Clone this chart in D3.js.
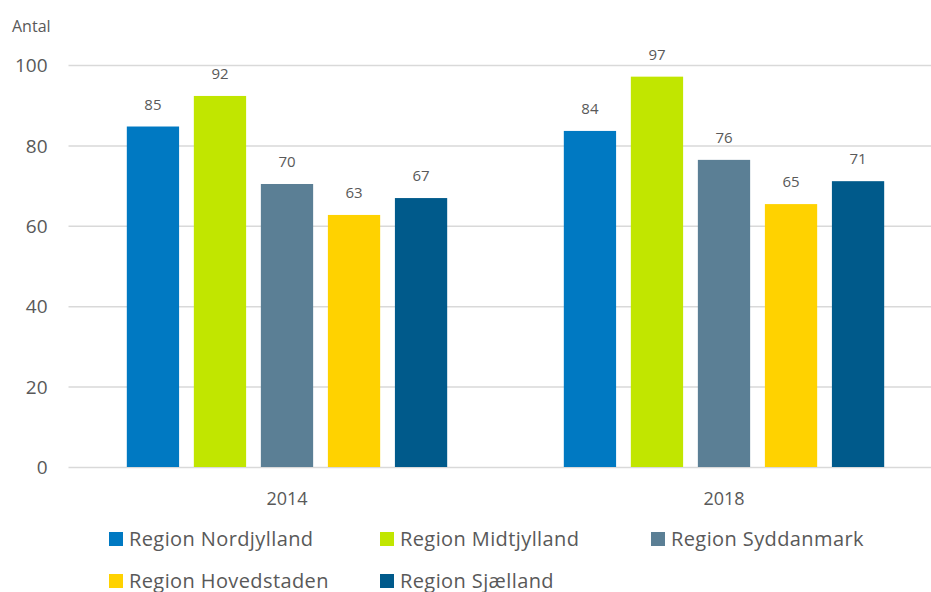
<!DOCTYPE html>
<html>
<head>
<meta charset="utf-8">
<script src="https://cdn.jsdelivr.net/npm/d3@7"></script>
<style>
  body { margin: 0; background: #fff; }
  svg text { font-family: 'Open Sans', 'Liberation Sans', sans-serif; fill: #595959; }
</style>
</head>
<body>
<div id="chart"></div>
<script>
const years = ['2014', '2018'];
const regions = ['Region Nordjylland', 'Region Midtjylland', 'Region Syddanmark', 'Region Hovedstaden', 'Region Sjælland'];
const values2014 = [84.7, 92.3, 70.4, 62.7, 66.9];
const values2018 = [83.6, 97.1, 76.4, 65.4, 71.1];
const colors = ['#0079C2', '#C1E600', '#5B7F95', '#FFD200', '#005A8B'];
const yTicks = [0, 20, 40, 60, 80, 100];

function drawChart() {
  const svg = d3.select('div#chart')
    .append('svg')
    .attr('width', 931)
    .attr('height', 592);

  const margin = { top: 65, left: 68.5, bottom: 125 };
  const chartHeight = 592 - margin.top - margin.bottom;

  const data = years.map((year, i) => ({
    year,
    values: (i === 0 ? values2014 : values2018).map((v, j) => ({ region: regions[j], value: v }))
  }));

  const yScale = d3.scaleLinear().domain([0, 100]).range([margin.top + chartHeight, margin.top]);
  const yearScale = d3.scaleBand().domain(years).range([margin.left, margin.left + 874]);
  const regionScale = d3.scaleBand()
    .domain(regions)
    .range([0, yearScale.bandwidth()])
    .paddingInner(0.22)
    .paddingOuter(0.87);
  const colorScale = d3.scaleOrdinal().domain(regions).range(colors);

  // gridlines
  const leftGridlines = d3.axisLeft(yScale).tickValues(yTicks).tickSize(-(931 - margin.left)).tickFormat('');
  svg.append('g')
    .attr('class', 'y gridlines')
    .attr('transform', `translate(${margin.left},0)`)
    .call(leftGridlines)
    .call(g => g.select('.domain').remove())
    .call(g => g.selectAll('line').attr('stroke', '#d9d9d9').attr('stroke-width', 1.5));

  // y labels
  const leftAxis = d3.axisLeft(yScale).tickValues(yTicks).tickSize(0).tickPadding(0);
  svg.append('g')
    .attr('class', 'y axis')
    .attr('transform', `translate(${margin.left - 21},0)`)
    .call(leftAxis)
    .call(g => g.select('.domain').remove())
    .call(g => g.selectAll('text').style('font-size', '19px').attr('dy', '0.35em'));

  svg.append('text')
    .attr('x', 12)
    .attr('y', 32)
    .style('font-size', '16px')
    .text('Antal');

  // bars
  const groups = svg.selectAll('g.year')
    .data(data)
    .join('g')
    .attr('class', 'year')
    .attr('transform', d => `translate(${yearScale(d.year)},0)`);

  groups.selectAll('rect')
    .data(d => d.values)
    .join('rect')
    .attr('x', d => regionScale(d.region))
    .attr('y', d => yScale(d.value))
    .attr('width', regionScale.bandwidth())
    .attr('height', d => yScale(0) - yScale(d.value))
    .style('fill', d => colorScale(d.region));

  groups.selectAll('text.value')
    .data(d => d.values)
    .join('text')
    .attr('class', 'value')
    .attr('x', d => regionScale(d.region) + regionScale.bandwidth() / 2)
    .attr('y', d => yScale(d.value) - 17)
    .attr('text-anchor', 'middle')
    .style('font-size', '15px')
    .text(d => d3.format('.0f')(d.value));

  // x axis labels
  const bottomAxis = d3.axisBottom(yearScale).tickSize(0).tickPadding(0);
  svg.append('g')
    .attr('class', 'x axis')
    .attr('transform', `translate(0,${yScale(0) + 38})`)
    .call(bottomAxis)
    .call(g => g.select('.domain').remove())
    .call(g => g.selectAll('text').style('font-size', '18px').attr('dy', 0));

  // legend
  const legendPos = [[109, 539], [380, 539], [651, 539], [109, 581], [380, 581]];
  const legend = svg.append('g').attr('id', 'legend');
  legend.selectAll('rect')
    .data(regions)
    .join('rect')
    .attr('x', (d, i) => legendPos[i][0])
    .attr('y', (d, i) => legendPos[i][1] - 7)
    .attr('width', 14)
    .attr('height', 14)
    .style('fill', d => colorScale(d));
  legend.selectAll('text')
    .data(regions)
    .join('text')
    .attr('x', (d, i) => legendPos[i][0] + 20)
    .attr('y', (d, i) => legendPos[i][1])
    .attr('dy', '0.35em')
    .style('font-size', '20px')
    .style('letter-spacing', '0.4px')
    .text(d => d);
}

drawChart();
</script>
</body>
</html>
